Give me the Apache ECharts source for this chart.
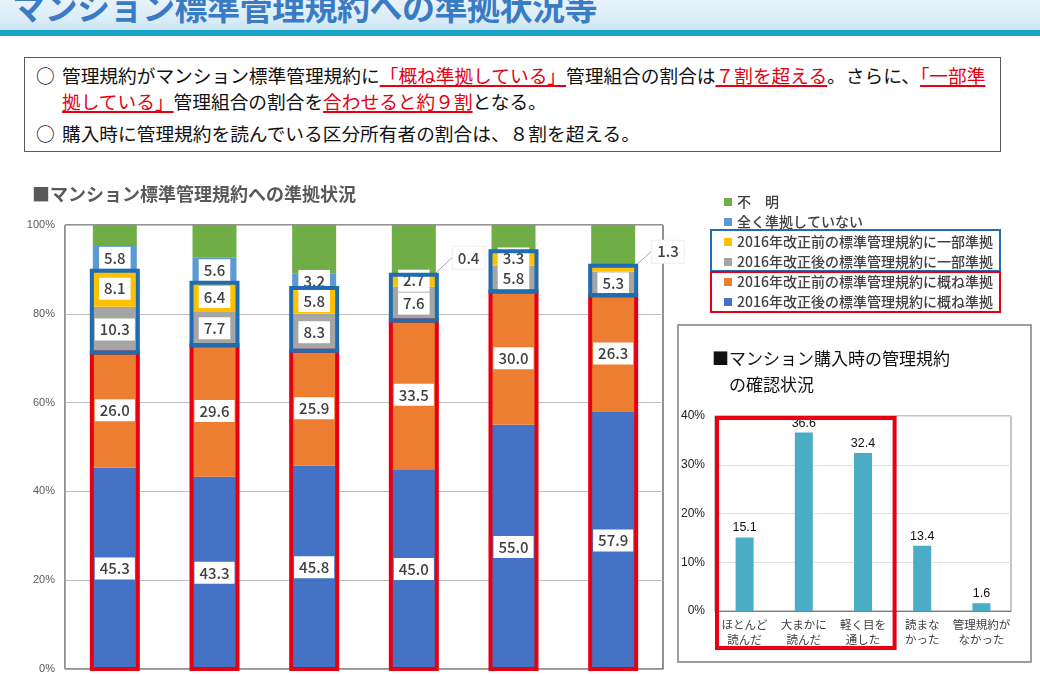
<!DOCTYPE html>
<html>
<head>
<meta charset="utf-8">
<script src="https://cdn.jsdelivr.net/npm/echarts@6/dist/echarts.min.js"></script>
<style>
  body { margin: 0; background: #fff; font-family: "Noto Sans CJK JP", sans-serif; }
  #page { position: relative; width: 1040px; height: 675px; overflow: hidden; }
  #main { position: absolute; left: 0; top: 0; width: 1040px; height: 675px; }
  .band { position: absolute; left: 0; top: 0; width: 1040px; height: 30px;
          background: linear-gradient(#e8f3fa, #d9ecf7 70%, #c9e4f2); }
  .bar2 { position: absolute; left: 0; top: 30px; width: 1040px; height: 6px; background: #17a4c8; }
  .head { position: absolute; left: 12px; top: -14px; font-size: 33px; line-height: 40px; font-weight: bold;
          color: #3a7bc6; white-space: nowrap; letter-spacing: -0.5px; }
  .box { position: absolute; left: 24px; top: 57px; width: 975px; height: 93px; border: 1px solid #595959; background: #fff; }
  .ln { position: absolute; font-size: 18.7px; line-height: 24px; color: #111; white-space: nowrap; }
  .red { color: #e60012; text-decoration: underline; text-decoration-thickness: 2px; text-underline-offset: 2px; }
</style>
</head>
<body>
<div id="page">
  <div id="main"></div>
  <div class="band"></div>
  <div class="head">マンション標準管理規約への準拠状況等</div>
  <div class="bar2"></div>
  <div class="box"></div>
  <div class="ln" style="left:36px;top:63px">○</div>
  <div class="ln" style="left:62px;top:63px">管理規約がマンション標準管理規約に<span class="red">「概ね準拠している」</span>管理組合の割合は<span class="red">７割を超える</span>。さらに、<span class="red">「一部準</span></div>
  <div class="ln" style="left:62px;top:89px"><span class="red">拠している」</span>管理組合の割合を<span class="red">合わせると約９割</span>となる。</div>
  <div class="ln" style="left:36px;top:121px">○</div>
  <div class="ln" style="left:62px;top:121px">購入時に管理規約を読んでいる区分所有者の割合は、８割を超える。</div>
</div>
<script>
// 標準管理規約への準拠状況（下から積み上げ）
var cats = ['1', '2', '3', '4', '5', '6'];
var aftFull = [45.3, 43.3, 45.8, 45.0, 55.0, 57.9];   // 改正後・概ね準拠
var befFull = [26.0, 29.6, 25.9, 33.5, 30.0, 26.3];   // 改正前・概ね準拠
var aftPart = [10.3, 7.7, 8.3, 7.6, 5.8, 5.3];        // 改正後・一部準拠
var befPart = [8.1, 6.4, 5.8, 2.7, 3.3, 1.3];         // 改正前・一部準拠
var notAtAll = [5.8, 5.6, 3.2, 0.4, 0, 0];            // 全く準拠していない
var unknown = [4.5, 7.4, 11.0, 10.8, 5.9, 9.2];       // 不明
var yTicks = [0, 20, 40, 60, 80, 100];

var names = ['不　明', '全く準拠していない',
  '2016年改正前の標準管理規約に一部準拠', '2016年改正後の標準管理規約に一部準拠',
  '2016年改正前の標準管理規約に概ね準拠', '2016年改正後の標準管理規約に概ね準拠'];

// 購入時の管理規約の確認状況
var readCats = ['ほとんど\n読んだ', '大まかに\n読んだ', '軽く目を\n通した', '読まな\nかった', '管理規約が\nなかった'];
var readVals = [15.1, 36.6, 32.4, 13.4, 1.6];

var JP = '"Noto Sans CJK JP", sans-serif';
var myChart = echarts.init(document.getElementById('main'));

// 小さい値は外に出して引き出し線をつける（系列番号-データ番号）
var callout = { '4-3': [12, -16], '3-5': [12, -17] };

function stackSeries(name, vals, color, sIdx) {
  return {
    name: name, type: 'bar', stack: 'all', barWidth: 44, z: 2,
    itemStyle: { color: color },
    data: vals.map(function (v, i) {
      var item = { value: v };
      if (v === 0 || sIdx === 5) item.label = { show: false };
      if (callout[sIdx + '-' + i]) {
        item.label = { position: 'right', backgroundColor: '#fff', borderColor: '#eee', borderWidth: 1 };
        item.labelLine = { show: true, lineStyle: { color: '#a6a6a6', width: 1 } };
      }
      return item;
    }),
    label: {
      show: true, position: 'inside', fontFamily: JP, fontSize: 15, fontWeight: 500,
      color: '#404040', backgroundColor: '#fff', padding: [4, 5, 3, 5],
      formatter: function (p) { return p.value.toFixed(1); }
    },
    labelLayout: function (p) {
      var c = callout[p.seriesIndex + '-' + p.dataIndex];
      return c ? { dx: c[0], dy: c[1] } : {};
    }
  };
}

// 枠（概ね準拠＝赤、一部準拠＝青）
var redBox = [], blueBox = [];
for (var i = 0; i < cats.length; i++) {
  var a = aftFull[i] + befFull[i];
  redBox.push([i, 0, a]);
  blueBox.push([i, a, a + aftPart[i] + befPart[i]]);
}
function boxSeries(data, color) {
  return {
    type: 'custom', xAxisIndex: 0, yAxisIndex: 0, z: 4, data: data, silent: true,
    renderItem: function (params, api) {
      var t = api.coord([api.value(0), api.value(2)]);
      var b = api.coord([api.value(0), api.value(1)]);
      return { type: 'rect', shape: { x: t[0] - 23, y: t[1], width: 46, height: b[1] - t[1] },
        style: { fill: 'none', stroke: color, lineWidth: 4 } };
    }
  };
}

var option = {
  animation: false,
  backgroundColor: '#fff',
  title: [{
    text: '■マンション標準管理規約への準拠状況', left: 27, top: 180,
    textStyle: { fontFamily: JP, fontSize: 18, fontWeight: 'bold', color: '#595959' }
  }, {
    text: '■マンション購入時の管理規約\n　の確認状況', left: 707, top: 341,
    textStyle: { fontFamily: JP, fontSize: 17, fontWeight: 'normal', color: '#111', lineHeight: 26 }
  }],
  legend: {
    data: names, orient: 'vertical', left: 719, top: 190, itemWidth: 8, itemHeight: 8, itemGap: 6,
    icon: 'rect',
    textStyle: { fontFamily: JP, fontSize: 14, lineHeight: 14, color: '#404040', fontWeight: 500 }
  },
  grid: [
    { left: 65, right: 377, top: 225, bottom: 6, show: true, borderColor: '#262626', borderWidth: 1 },
    { left: 715, right: 29, top: 416, bottom: 64, show: true, borderColor: '#8c8c8c', borderWidth: 1 }
  ],
  xAxis: [{
    type: 'category', data: cats, gridIndex: 0,
    axisLine: { lineStyle: { color: '#a6a6a6' } }, axisTick: { show: false }, axisLabel: { show: false }
  }, {
    type: 'category', data: readCats, gridIndex: 1,
    axisLine: { lineStyle: { color: '#7f7f7f' } }, axisTick: { show: false },
    axisLabel: { interval: 0, fontFamily: JP, fontSize: 11.5, lineHeight: 15, color: '#404040', margin: 6 }
  }],
  yAxis: [{
    type: 'value', gridIndex: 0, min: yTicks[0], max: yTicks[yTicks.length - 1], interval: 20,
    axisLine: { show: true, lineStyle: { color: '#a6a6a6' } },
    splitLine: { lineStyle: { color: '#bfbfbf' } },
    axisLabel: { formatter: '{value}%', fontFamily: 'Liberation Sans', fontSize: 11, color: '#595959', margin: 10 }
  }, {
    type: 'value', gridIndex: 1, min: 0, max: 40, interval: 10,
    axisLine: { show: false },
    splitLine: { lineStyle: { color: '#e0e0e0' } },
    axisLabel: { formatter: '{value}%', fontFamily: 'Liberation Sans', fontSize: 12, color: '#222', margin: 10 }
  }],
  graphic: [
    { type: 'rect', shape: { x: 678, y: 325, width: 353, height: 337 },
      style: { fill: 'none', stroke: '#7f7f7f', lineWidth: 1.5 }, z: 1 },
    { type: 'rect', shape: { x: 711, y: 230, width: 289, height: 41 },
      style: { fill: 'none', stroke: '#1f6cb0', lineWidth: 2 }, z: 10 },
    { type: 'rect', shape: { x: 711, y: 272, width: 289, height: 40 },
      style: { fill: 'none', stroke: '#e60012', lineWidth: 2 }, z: 10 }
  ],
  series: [
    stackSeries(names[5], aftFull, '#4472c4', 0),
    stackSeries(names[4], befFull, '#ed7d31', 1),
    stackSeries(names[3], aftPart, '#a5a5a5', 2),
    stackSeries(names[2], befPart, '#ffc000', 3),
    stackSeries(names[1], notAtAll, '#5b9bd5', 4),
    stackSeries(names[0], unknown, '#70ad47', 5),
    boxSeries(redBox, '#e60012'),
    boxSeries(blueBox, '#1f6cb0'),
    {
      type: 'bar', xAxisIndex: 1, yAxisIndex: 1, data: readVals, barWidth: 18,
      itemStyle: { color: '#4bacc6' },
      label: { show: true, position: 'top', distance: 3, fontFamily: 'Liberation Sans', fontSize: 12.5, color: '#111',
        formatter: function (p) { return p.value.toFixed(1); } }
    },
    {
      type: 'custom', xAxisIndex: 1, yAxisIndex: 1, z: 4, silent: true, data: [[0, 2, 40]],
      renderItem: function (params, api) {
        var l = api.coord([api.value(0), api.value(2)]);
        var r = api.coord([api.value(1), 0]);
        var bw = api.size([1, 0])[0];
        var x = l[0] - bw / 2 + 2;
        return { type: 'rect', shape: { x: x, y: l[1] + 2, width: r[0] + bw / 2 + 2 - x, height: r[1] + 37 - l[1] - 2 },
          style: { fill: 'none', stroke: '#e60012', lineWidth: 4 } };
      }
    }
  ]
};
myChart.setOption(option);
</script>
</body>
</html>
